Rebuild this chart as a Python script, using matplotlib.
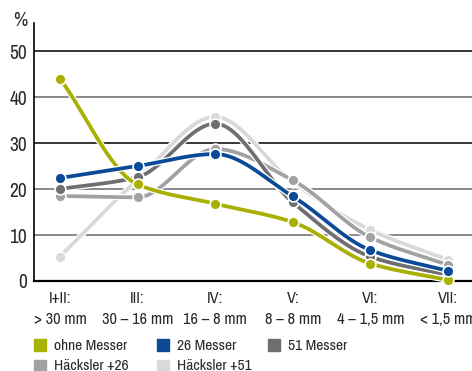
import numpy as np
import matplotlib
matplotlib.use("Agg")
import matplotlib.pyplot as plt
import matplotlib.patheffects as pe
from matplotlib.patches import Rectangle
from matplotlib import font_manager

fams = set(f.name for f in font_manager.fontManager.ttflist)
FONT = "Archivo Narrow" if "Archivo Narrow" in fams else "Liberation Sans"
plt.rcParams['font.family'] = [FONT, 'DejaVu Sans']

categories = ["I+II:\n> 30 mm", "III:\n30 – 16 mm", "IV:\n16 – 8 mm",
              "V:\n8 – 8 mm", "VI:\n4 – 1,5 mm", "VII:\n< 1,5 mm"]
ohne_messer = [44.0, 21.0, 16.8, 12.8, 3.8, 0.2]
messer_26 = [22.4, 25.0, 27.6, 18.4, 6.7, 2.2]
messer_51 = [20.0, 22.6, 34.2, 17.1, 5.3, 1.3]
haecksler_26 = [18.5, 18.2, 28.7, 21.9, 9.5, 3.5]
haecksler_51 = [5.3, 22.0, 35.7, 21.5, 11.1, 4.6]
yticks = [0, 10, 20, 30, 40, 50]

series = [
    ("Häcksler +51", haecksler_51, "#d9d9db"),
    ("Häcksler +26", haecksler_26, "#a2a2a4"),
    ("51 Messer", messer_51, "#6f6f71"),
    ("ohne Messer", ohne_messer, "#a8b000"),
    ("26 Messer", messer_26, "#0b4a97"),
]
legend_order = ["ohne Messer", "26 Messer", "51 Messer", "Häcksler +26", "Häcksler +51"]


def pchip(x, y, n=30):
    x = np.asarray(x, float); y = np.asarray(y, float)
    h = np.diff(x); d = np.diff(y) / h
    m = np.zeros_like(y)
    m[0] = d[0]; m[-1] = d[-1]
    for k in range(1, len(x) - 1):
        if d[k - 1] * d[k] <= 0:
            m[k] = 0
        else:
            w1 = 2 * h[k] + h[k - 1]; w2 = h[k] + 2 * h[k - 1]
            m[k] = (w1 + w2) / (w1 / d[k - 1] + w2 / d[k])
    xs, ys = [], []
    for k in range(len(x) - 1):
        t = np.linspace(0, 1, n, endpoint=(k == len(x) - 2))
        h00 = 2*t**3 - 3*t**2 + 1; h10 = t**3 - 2*t**2 + t
        h01 = -2*t**3 + 3*t**2; h11 = t**3 - t**2
        xs.append(x[k] + t * h[k])
        ys.append(h00*y[k] + h10*h[k]*m[k] + h01*y[k+1] + h11*h[k]*m[k+1])
    return np.concatenate(xs), np.concatenate(ys)


fig = plt.figure(figsize=(4.72, 3.71), dpi=100)
ax = fig.add_axes([34/472, 1 - 281/371, 1 - 34/472, (281 - 23)/371])
x = np.arange(len(categories))
ax.set_xlim(-0.335, 5.31)
ax.set_ylim(0, 56.1)

for yv in yticks[1:]:
    ax.axhline(yv, color="black" if yv in (30, 50) else "#6a6a6a", lw=1.1, zorder=1)

for i, (name, vals, col) in enumerate(series):
    xs, ys = pchip(x, vals)
    ax.plot(xs, ys, color=col, lw=2.7, solid_capstyle="round", zorder=3 + i,
            path_effects=[pe.Stroke(linewidth=4.5, foreground="white"), pe.Normal()],
            clip_on=False)
    ax.plot(x, vals, "o", color=col, ms=7.8, mec="white", mew=1.2, zorder=3 + i, clip_on=False)

for s in ["top", "right"]:
    ax.spines[s].set_visible(False)
ax.spines["left"].set_linewidth(1.2)
ax.spines["bottom"].set_linewidth(1.6)
ax.set_yticks(yticks)
ax.set_yticklabels([str(v) for v in yticks], fontsize=14, color="#2a2a2a")
ax.set_xticks(x)
ax.set_xticklabels(categories, fontsize=11.8, color="#2a2a2a", linespacing=1.5)
ax.tick_params(length=0, pad=5)
ax.tick_params(axis="x", pad=7)
fig.text(20/472, 1 - 20/371, "%", fontsize=14, ha="center", va="center", color="#2a2a2a")

# legend
cols = {n: c for n, _, c in series}
pos = [(34, 339), (157, 339), (268, 339), (34, 360), (157, 360)]
for name, (px, py) in zip(legend_order, pos):
    fig.patches.append(Rectangle((px/472, 1 - (py + 12)/371), 12/472, 12/371,
                                 transform=fig.transFigure, color=cols[name]))
    fig.text((px + 20)/472, 1 - (py + 6.5)/371, name, fontsize=11.2,
             va="center", ha="left", color="#2a2a2a")

fig.savefig("out.png", dpi=100)
